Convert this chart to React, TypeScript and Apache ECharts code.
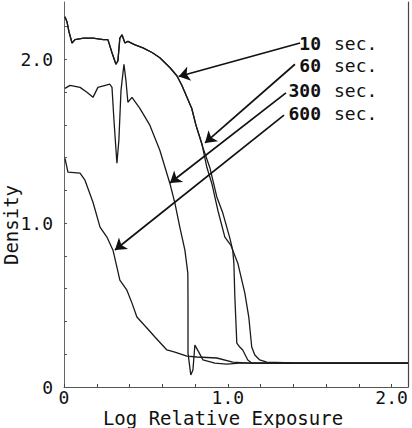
import React, { useEffect, useRef } from "react";
import * as echarts from "echarts";

// Log relative exposure (x) vs density (y)
const sec10: [number, number][] = [
  [0.006, 2.26], [0.018, 2.23], [0.03, 2.17], [0.049, 2.1], [0.067, 2.12], [0.12, 2.13],
  [0.177, 2.13], [0.24, 2.12], [0.268, 2.12], [0.293, 2.04], [0.317, 1.97], [0.329, 1.99],
  [0.341, 2.13], [0.354, 2.15], [0.372, 2.1], [0.39, 2.11], [0.43, 2.09], [0.482, 2.07],
  [0.54, 2.04], [0.585, 2.01], [0.646, 1.95], [0.689, 1.9], [0.72, 1.84], [0.75, 1.77],
  [0.78, 1.7], [0.805, 1.6], [0.841, 1.488], [0.872, 1.341], [0.902, 1.244], [0.939, 1.079],
  [0.982, 0.915], [1.018, 0.866], [1.061, 0.756], [1.104, 0.573], [1.128, 0.427],
  [1.146, 0.244], [1.165, 0.195], [1.195, 0.165], [1.238, 0.152], [1.4, 0.147], [2.1, 0.146],
];

const sec60: [number, number][] = [
  [0.006, 2.26], [0.018, 2.23], [0.03, 2.17], [0.049, 2.1], [0.067, 2.12], [0.12, 2.13],
  [0.177, 2.13], [0.24, 2.12], [0.268, 2.12], [0.293, 2.04], [0.317, 1.97], [0.329, 1.99],
  [0.341, 2.13], [0.354, 2.15], [0.372, 2.1], [0.39, 2.11], [0.43, 2.09], [0.482, 2.07],
  [0.54, 2.04], [0.585, 2.01], [0.646, 1.95], [0.689, 1.9], [0.72, 1.84], [0.75, 1.77],
  [0.78, 1.7], [0.805, 1.6], [0.848, 1.46], [0.89, 1.34], [0.933, 1.16], [0.97, 1.06],
  [1.012, 0.91], [1.03, 0.835], [1.037, 0.756], [1.043, 0.549], [1.055, 0.268],
  [1.073, 0.244], [1.091, 0.226], [1.122, 0.165], [1.146, 0.146], [1.4, 0.146], [2.1, 0.146],
];

const sec300: [number, number][] = [
  [0.006, 1.823], [0.037, 1.841], [0.098, 1.829], [0.14, 1.799], [0.177, 1.768],
  [0.207, 1.829], [0.28, 1.848], [0.293, 1.829], [0.305, 1.628], [0.323, 1.366],
  [0.335, 1.506], [0.348, 1.811], [0.366, 1.97], [0.378, 1.872], [0.39, 1.738],
  [0.415, 1.768], [0.463, 1.701], [0.524, 1.598], [0.585, 1.445], [0.646, 1.244],
  [0.677, 1.122], [0.707, 0.976], [0.738, 0.835], [0.756, 0.695], [0.757, 0.512],
  [0.757, 0.207], [0.774, 0.073], [0.787, 0.104], [0.799, 0.256], [0.823, 0.213],
  [0.848, 0.165], [0.921, 0.146], [0.994, 0.14], [1.073, 0.146], [2.1, 0.146],
];

const sec600: [number, number][] = [
  [0.006, 1.396], [0.024, 1.311], [0.098, 1.305], [0.128, 1.262], [0.177, 1.128],
  [0.22, 0.976], [0.262, 0.915], [0.299, 0.835], [0.323, 0.732], [0.341, 0.652],
  [0.384, 0.591], [0.415, 0.512], [0.445, 0.427], [0.506, 0.36], [0.555, 0.305],
  [0.628, 0.226], [0.677, 0.213], [0.75, 0.189], [0.811, 0.183], [0.933, 0.177],
  [1.03, 0.152], [1.134, 0.146], [2.1, 0.146],
];

// Legend labels and arrows (from label start to curve)
const seriesNames = ["10", "60", "300", "600"];
const arrowStarts: [number, number][] = [[1.441, 2.1], [1.41, 1.97], [1.355, 1.795], [1.343, 1.66]];
const arrowTips: [number, number][] = [[0.7, 1.895], [0.861, 1.49], [0.647, 1.245], [0.311, 0.836]];

const FONT = "DejaVu Sans Mono";

export default function App() {
  const ref = useRef<HTMLDivElement>(null);
  useEffect(() => {
    if (!ref.current) return;
    const chart = echarts.init(ref.current, null, { renderer: "svg" });
    const datasets = [sec10, sec60, sec300, sec600];
    const labelYs = [43, 65, 90, 113];
    const fmt = (v: number) => {
      if (Math.abs(v) < 1e-6) return "0";
      if (Math.abs(v - 1) < 1e-6) return "1.0";
      if (Math.abs(v - 2) < 1e-6) return "2.0";
      return "";
    };
    chart.setOption({
      animation: false,
      backgroundColor: "#fff",
      grid: { left: 64, right: 4, top: 2, bottom: 41 },
      xAxis: {
        type: "value",
        min: 0,
        max: 2.1,
        interval: 0.2,
        axisLine: { show: true, onZero: false, lineStyle: { color: "#555", width: 1 } },
        axisTick: { show: true, inside: true, length: 3, lineStyle: { color: "#444" } },
        axisLabel: {
          formatter: fmt,
          showMaxLabel: false,
          margin: 1,
          fontFamily: FONT,
          fontSize: 18,
          lineHeight: 18,
          color: "#111",
        },
        splitLine: { show: false },
      },
      yAxis: [
        {
          type: "value",
          min: 0,
          max: 2.35,
          interval: 0.2,
          axisLine: { show: true, lineStyle: { color: "#666", width: 1 } },
          axisTick: { show: true, inside: true, length: 3, lineStyle: { color: "#555" } },
          axisLabel: {
            formatter: fmt,
            showMaxLabel: false,
            margin: 11,
            fontFamily: FONT,
            fontSize: 18,
            lineHeight: 18,
            padding: [5, 0, 0, 0],
            color: "#111",
          },
          splitLine: { show: false },
        },
        {
          type: "value",
          position: "right",
          min: 0,
          max: 2.35,
          interval: 0.2,
          axisLine: { show: true, lineStyle: { color: "#444", width: 1.2 } },
          axisTick: { show: false },
          axisLabel: { show: false },
          splitLine: { show: false },
        },
      ],
      series: datasets.map((d, i) => ({
        type: "line",
        name: seriesNames[i] + " sec.",
        data: d,
        showSymbol: false,
        symbol: "none",
        silent: true,
        lineStyle: { color: "#1a1a1a", width: 1.3 },
        markLine: {
          silent: true,
          symbol: ["none", "arrow"],
          symbolSize: 11,
          label: { show: false },
          lineStyle: { color: "#111", width: 1.7, type: "solid" },
          data: [[{ coord: arrowStarts[i] }, { coord: arrowTips[i] }]],
        },
      })),
      graphic: [
        ...seriesNames.map((n, i) => ({
          type: "text",
          x: 321,
          y: labelYs[i],
          style: {
            text: n,
            fontFamily: FONT,
            fontSize: 18,
            fontWeight: "bold",
            fill: "#111",
            align: "right",
            verticalAlign: "middle",
          },
        })),
        ...seriesNames.map((_, i) => ({
          type: "text",
          x: 334,
          y: labelYs[i],
          style: {
            text: "sec.",
            fontFamily: FONT,
            fontSize: 18,
            fill: "#111",
            align: "left",
            verticalAlign: "middle",
          },
        })),
        {
          type: "text",
          x: 223,
          y: 418,
          style: {
            text: "Log Relative Exposure",
            fontFamily: FONT,
            fontSize: 19,
            lineHeight: 19,
            fill: "#111",
            align: "center",
            verticalAlign: "middle",
          },
        },
        {
          type: "text",
          x: 11,
          y: 225,
          rotation: Math.PI / 2,
          style: {
            text: "Density",
            fontFamily: FONT,
            fontSize: 19,
            lineHeight: 19,
            fill: "#111",
            align: "center",
            verticalAlign: "middle",
          },
        },
      ],
    });
    return () => chart.dispose();
  }, []);
  return (
    <div
      ref={ref}
      style={{ position: "fixed", left: 0, top: 0, width: 412, height: 428, background: "#fff" }}
    />
  );
}
